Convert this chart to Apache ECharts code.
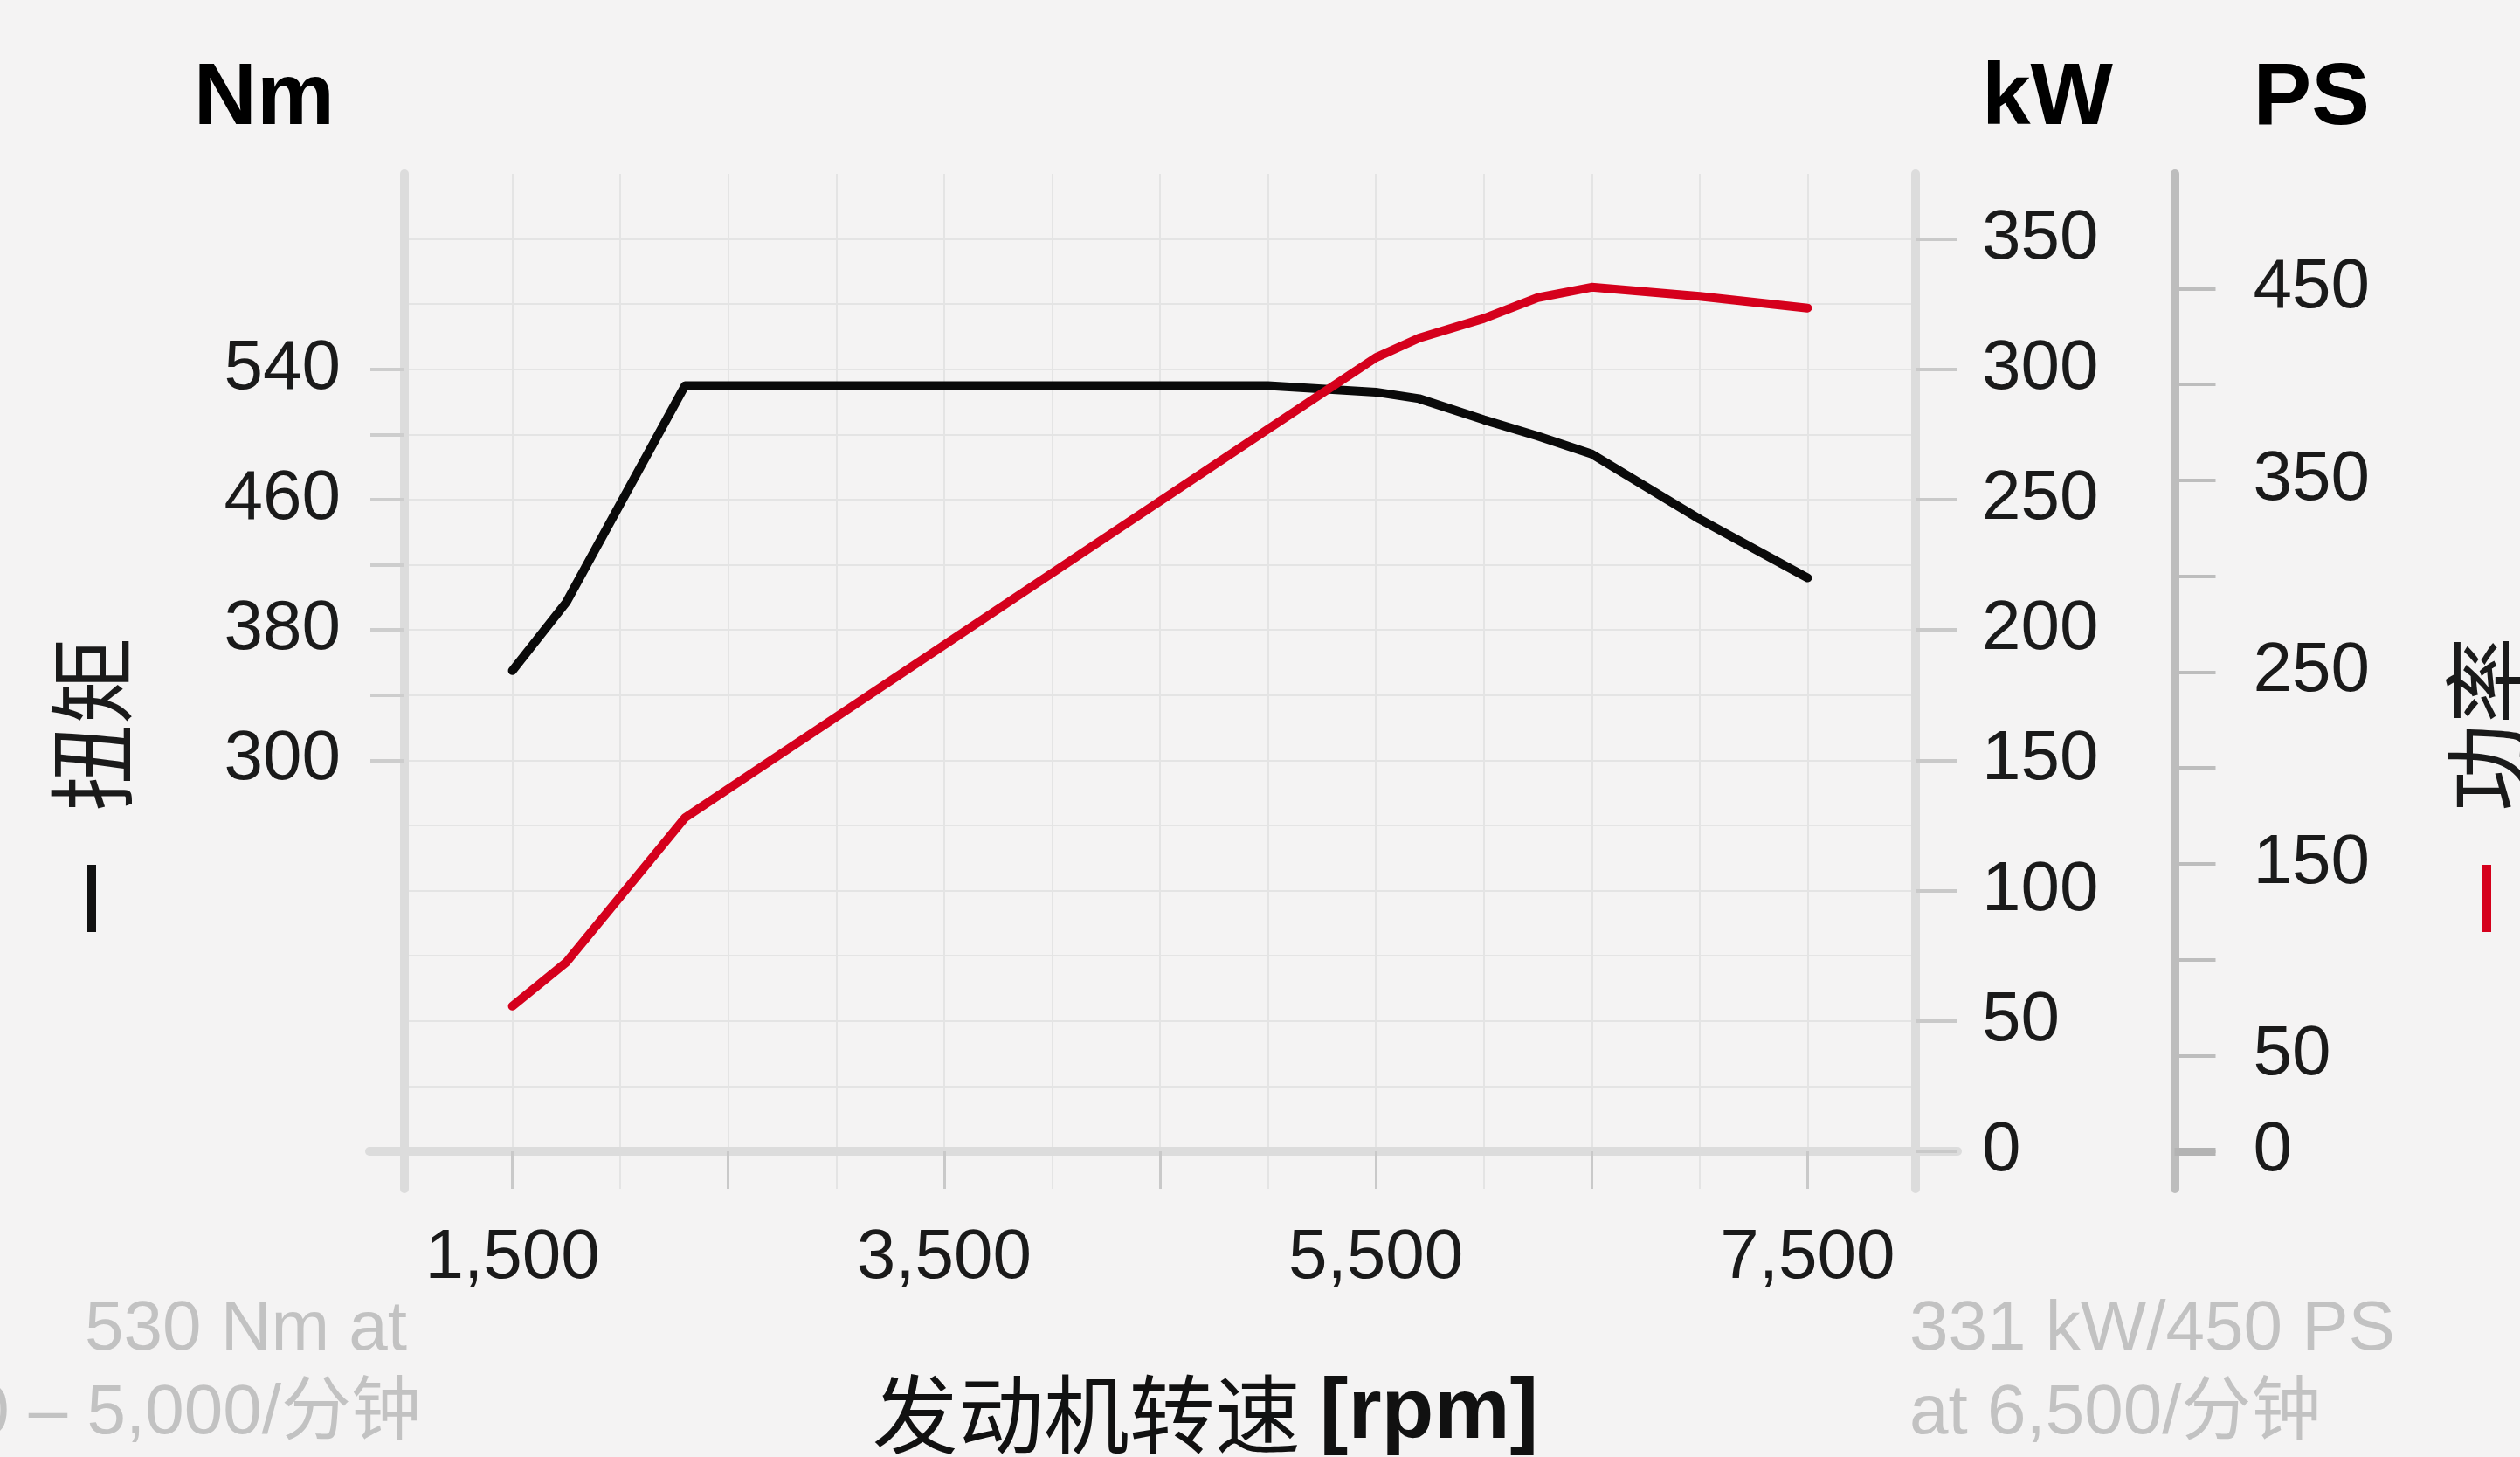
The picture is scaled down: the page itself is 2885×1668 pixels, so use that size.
<!DOCTYPE html>
<html><head><meta charset="utf-8">
<script src="https://cdn.jsdelivr.net/npm/echarts@6/dist/echarts.min.js"></script>
<style>html,body{margin:0;padding:0;background:#f4f3f3;}#c{width:2885px;height:1668px;}</style>
</head><body><div id="c"></div>
<script>
// ---- data ----
const rpm      = [1500, 1750, 2300, 5000, 5500, 5700, 6000, 6250, 6500, 7000, 7500];
const torqueNm = [355,  397,  530,  530,  526,  522,  509,  499,  488,  448,  412];
const powerKW  = [55.7, 72.5, 128,  277,  304.5, 312, 319.5, 327.5, 331.5, 328, 323.5];

const rpmLabelTicks = [1500, 3500, 5500, 7500];
const rpmMajorTicks = [1500, 2500, 3500, 4500, 5500, 6500, 7500];
const torqueTicks   = [300, 340, 380, 420, 460, 500, 540];
const torqueLabels  = [300, 380, 460, 540];
const kwTicks       = [0, 50, 100, 150, 200, 250, 300, 350];
const psTicks       = [0, 50, 100, 150, 200, 250, 300, 350, 400, 450];
const psLabels      = [0, 50, 150, 250, 350, 450];

const torqueName = '扭矩';
const powerName  = '功率';
const xName      = '发动机转速';
const noteLeft   = ['530 Nm at', '2,300 – 5,000/分钟'];
const noteRight  = ['331 kW/450 PS', 'at 6,500/分钟'];

// ---- styling ----
const NUM = '"Liberation Sans", Arial, "Noto Sans CJK SC", sans-serif';
const CJK = '"Noto Sans CJK SC", sans-serif';
const UNIT = '"Liberation Sans Narrow", "Liberation Sans", Roboto, sans-serif';
const TXT = '#1a1a1a';
const AXIS_LIGHT = '#dcdcdc';
const GRIDC = '#e4e4e4';
const RED = '#d5001c';

const G0 = {left: 463, right: 692, top: 199, bottom: 307};
const kwMin = -14.4, kwMax = 375;
const tqMin = 36.96, tqMax = 660;
const psMin = -19.58, psMax = 509.86;

const labelStyle = {fontSize: 80, color: TXT, fontFamily: NUM};
const unitStyle = {fontSize: 100, fontWeight: 'bold', color: '#000', fontFamily: UNIT, verticalAlign: 'middle'};

const chart = echarts.init(document.getElementById('c'), null, {renderer: 'canvas'});
chart.setOption({
  animation: false,
  backgroundColor: '#f4f3f3',
  grid: [
    {left: G0.left, right: G0.right, top: G0.top, bottom: G0.bottom, containLabel: false, outerBoundsMode: 'none'},
    {left: 423, right: 644, top: 199, bottom: 350, containLabel: false, outerBoundsMode: 'none'},
    {left: G0.left, right: G0.right, top: 273.6, bottom: 350, containLabel: false, outerBoundsMode: 'none'}
  ],
  xAxis: [
    {
      gridIndex: 0, type: 'value', min: 1000, max: 8000, interval: 500, position: 'bottom',
      axisLine: {show: true, onZero: true, onZeroAxisIndex: 1, lineStyle: {color: AXIS_LIGHT, width: 10}},
      axisTick: {show: false},
      axisLabel: Object.assign({customValues: rpmLabelTicks, margin: 40,
        formatter: v => Number(v).toLocaleString('en-US')}, labelStyle),
      splitLine: {show: true, lineStyle: {color: GRIDC, width: 2}},
      name: '{a|' + xName + ' }{b|[rpm]}', nameLocation: 'middle', nameGap: 258,
      nameTextStyle: {verticalAlign: 'middle', align: 'center', padding: [0, 0, 0, 104],
        rich: {a: {fontFamily: CJK, fontSize: 98, color: '#111'},
               b: {fontFamily: NUM, fontWeight: 'bold', fontSize: 98, color: '#111'}}}
    },
    {
      gridIndex: 0, type: 'value', min: 1000, max: 8000, position: 'bottom',
      axisLine: {show: false, onZero: true, onZeroAxisIndex: 1},
      axisTick: {show: true, customValues: rpmMajorTicks, length: 43, lineStyle: {color: '#c9c9c9', width: 3}},
      axisLabel: {show: false}, splitLine: {show: false}
    },
    {
      gridIndex: 1, type: 'value', min: 0, max: 1, position: 'bottom',
      axisLine: {show: true, onZero: false, lineStyle: {color: AXIS_LIGHT, width: 10}},
      axisTick: {show: false}, axisLabel: {show: false}, splitLine: {show: false}
    },
    {gridIndex: 2, type: 'value', min: 0, max: 1, show: false}
  ],
  yAxis: [
    {
      gridIndex: 0, type: 'value', position: 'left', min: tqMin, max: tqMax,
      axisLine: {show: true, onZero: false, lineStyle: {color: AXIS_LIGHT, width: 10}},
      axisTick: {show: true, customValues: torqueTicks, length: 39, lineStyle: {color: '#cdcdcd', width: 4}},
      axisLabel: Object.assign({customValues: torqueLabels, margin: 73}, labelStyle),
      splitLine: {show: false},
      name: 'Nm', nameLocation: 'end', nameGap: 85,
      nameTextStyle: Object.assign({align: 'right', padding: [0, 80, 0, 0]}, unitStyle)
    },
    {
      gridIndex: 0, type: 'value', position: 'right', min: kwMin, max: kwMax,
      axisLine: {show: true, onZero: false, lineStyle: {color: AXIS_LIGHT, width: 10}},
      axisTick: {show: true, customValues: kwTicks, length: 47, lineStyle: {color: '#c9c9c9', width: 4}},
      axisLabel: Object.assign({customValues: kwTicks, margin: 76}, labelStyle),
      splitLine: {show: false},
      name: 'kW', nameLocation: 'end', nameGap: 85,
      nameTextStyle: Object.assign({align: 'left', padding: [0, 0, 0, 76]}, unitStyle)
    },
    {
      gridIndex: 0, type: 'value', position: 'right', offset: 296.5, min: psMin, max: psMax,
      axisLine: {show: true, onZero: false, lineStyle: {color: '#bdbdbd', width: 10}},
      axisTick: {show: true, customValues: psTicks, length: 47, lineStyle: {color: '#bdbdbd', width: 4}},
      axisLabel: Object.assign({customValues: psLabels, margin: 90}, labelStyle),
      splitLine: {show: false},
      name: 'PS', nameLocation: 'end', nameGap: 85,
      nameTextStyle: Object.assign({align: 'left', padding: [0, 0, 0, 90]}, unitStyle)
    },
    {
      gridIndex: 0, type: 'value', position: 'right', offset: 296.5, min: psMin, max: psMax,
      axisLine: {show: false, onZero: false},
      axisTick: {show: true, customValues: [0], length: 47, lineStyle: {color: '#b3b3b3', width: 9}},
      axisLabel: {show: false}, splitLine: {show: false}
    },
    {gridIndex: 1, type: 'value', min: 0, max: 1, show: false},
    {
      gridIndex: 2, type: 'value', min: 0, max: 350, interval: 25,
      axisLine: {show: false}, axisTick: {show: false}, axisLabel: {show: false},
      splitLine: {show: true, lineStyle: {color: GRIDC, width: 2}}
    }
  ],
  series: [
    {
      name: torqueName, type: 'line', xAxisIndex: 0, yAxisIndex: 0, symbol: 'none', z: 5,
      data: rpm.map((r, i) => [r, torqueNm[i]]),
      lineStyle: {color: '#0a0a0a', width: 10, cap: 'round', join: 'round'}
    },
    {
      name: powerName, type: 'line', xAxisIndex: 0, yAxisIndex: 1, symbol: 'none', z: 6,
      data: rpm.map((r, i) => [r, powerKW[i]]),
      lineStyle: {color: RED, width: 10, cap: 'round', join: 'round'}
    }
  ],
  graphic: [
    {type: 'group', x: 105, y: 900, rotation: Math.PI / 2, children: [
      {type: 'rect', shape: {x: -167, y: -5, width: 77, height: 10}, style: {fill: '#111'}},
      {type: 'text', x: -29, y: 0, style: {text: torqueName, fontSize: 100, fontFamily: CJK, fill: '#1a1a1a',
        align: 'left', verticalAlign: 'middle', textAlign: 'left', textVerticalAlign: 'middle'}}
    ]},
    {type: 'group', x: 2847, y: 900, rotation: Math.PI / 2, children: [
      {type: 'rect', shape: {x: -167, y: -5, width: 77, height: 10}, style: {fill: RED}},
      {type: 'text', x: -29, y: 0, style: {text: powerName, fontSize: 100, fontFamily: CJK, fill: '#1a1a1a',
        align: 'left', verticalAlign: 'middle', textAlign: 'left', textVerticalAlign: 'middle'}}
    ]},
    {type: 'text', x: 97, y: 1523, style: {text: noteLeft[0], fontSize: 80, fontFamily: NUM, fill: '#c2c2c2',
      align: 'left', verticalAlign: 'middle', textAlign: 'left', textVerticalAlign: 'middle'}},
    {type: 'text', x: 482, y: 1619, style: {text: noteLeft[1], fontSize: 80, fontFamily: NUM, fill: '#c2c2c2',
      align: 'right', verticalAlign: 'middle', textAlign: 'right', textVerticalAlign: 'middle'}},
    {type: 'text', x: 2186, y: 1523, style: {text: noteRight[0], fontSize: 80, fontFamily: NUM, fill: '#c2c2c2',
      align: 'left', verticalAlign: 'middle', textAlign: 'left', textVerticalAlign: 'middle'}},
    {type: 'text', x: 2186, y: 1619, style: {text: noteRight[1], fontSize: 80, fontFamily: NUM, fill: '#c2c2c2',
      align: 'left', verticalAlign: 'middle', textAlign: 'left', textVerticalAlign: 'middle'}}
  ]
});
</script>
</body></html>
